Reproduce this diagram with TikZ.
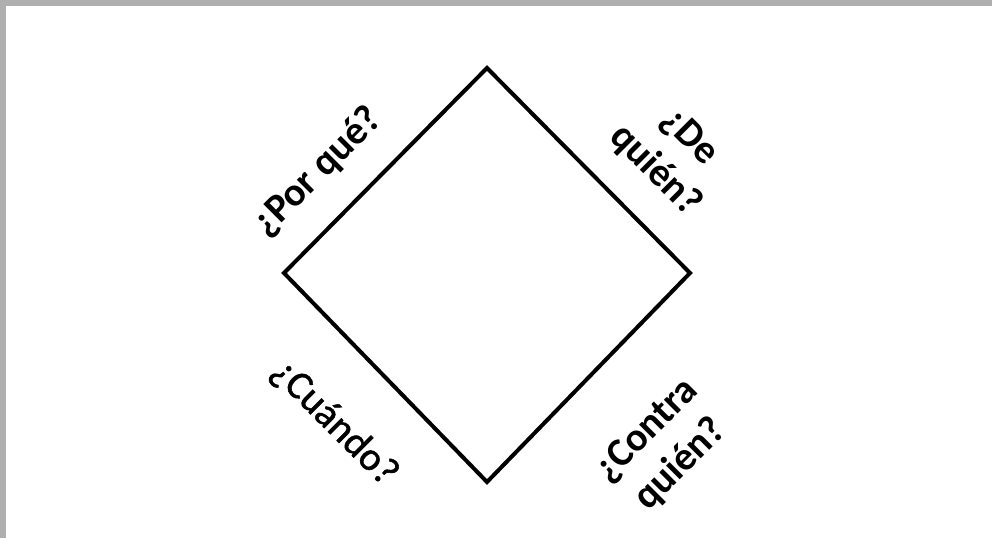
\documentclass[tikz,border=0pt]{standalone}
\usepackage{fontspec}
\setmainfont{Carlito}
\newfontfamily\mediumfont[FakeBold=1.3]{Carlito}
\usetikzlibrary{positioning}
\definecolor{frameshade}{RGB}{175,175,175}

\begin{document}
\begin{tikzpicture}[x=1pt, y=-1pt, every node/.style={font=\fontsize{40}{48}\selectfont, align=center, inner sep=0pt},
    question/.style={font=\fontsize{40}{48}\selectfont\bfseries}]
        % page with shaded border
        \fill[frameshade] (0,0) rectangle (992,538);
        \fill[white] (6,6) rectangle (992,538);
        \useasboundingbox (0,0) rectangle (992,538);
        % diamond
        \coordinate (top) at (487,68);
        \coordinate (right) at (690,273);
        \coordinate (bottom) at (487,482);
        \coordinate (left) at (284,273);
        \draw[line width=4pt, line join=miter] (top) -- (right) -- (bottom) -- (left) -- cycle;
        % labels
        \node[question, rotate=45] (why) at (318,172) {¿Por qué?};
        \node[question, rotate=-45] (whose) at (672,154) {¿De\\quién?};
        \node[font=\fontsize{40}{48}\selectfont\mediumfont, rotate=-45] (when) at (334,423) {¿Cuándo?};
        \node[question, rotate=45] (against) at (664,448) {¿Contra\\quién?};
      \end{tikzpicture}
\end{document}
